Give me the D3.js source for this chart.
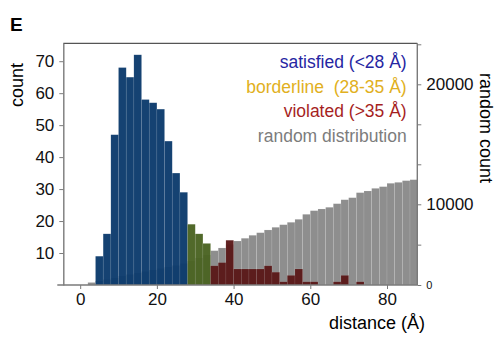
<!DOCTYPE html>
<html lang="en">
<head>
  <meta charset="UTF-8">
  <title>Crosslink distance histogram</title>
  <script src="https://d3js.org/d3.v7.min.js"></script>
  <style>
    body { margin: 0; background: #fff; font-family: "Liberation Sans", Arial, sans-serif; }
    .axis path, .axis line { stroke: #7a7a7a; }
    .axis text { font-family: "Liberation Sans", Arial, sans-serif; fill: #111; }
  </style>
</head>
<body>
<svg width="499" height="339"></svg>

<script>
  // bin start (Å), bins are 2 Å wide
  const binStarts = [2, 4, 6, 8, 10, 12, 14, 16, 18, 20, 22, 24, 26, 28, 30, 32, 34, 36, 38, 40, 42, 44,
                     46, 48, 50, 52, 54, 56, 58, 60, 62, 64, 66, 68, 70, 72, 74, 76, 78, 80, 82, 84, 86];
  // observed crosslink counts (left axis)
  const observedCounts = [0, 9, 16, 47, 68, 65, 72, 58, 57, 55, 45, 35, 29, 19, 16, 13, 6, 7, 14, 5, 5, 5,
                          5, 6, 4, 1, 3, 5, 1, 1, 0, 0, 1, 3, 0, 1, 0, 0, 0, 0, 0, 0, 0];
  // random distribution counts (right axis)
  const randomCounts = [310, 500, 680, 870, 1120, 1300, 1490, 1670, 1860, 2050, 2230, 2420, 2660, 2970, 3350,
                        3720, 4250, 4590, 5020, 5450, 5790, 6160, 6480, 6820, 7150, 7470, 7770, 8140, 8760,
                        9210, 9420, 9630, 10050, 10380, 10550, 10970, 11110, 11330, 11470, 11750, 11830,
                        11970, 12050];
  const leftTicks = [10, 20, 30, 40, 50, 60, 70];
  const bottomTicks = [0, 20, 40, 60, 80];
  const rightTicks = [0, 5000, 10000, 13333.3, 16666.7, 20000, 23333.3];
  const rightLabels = [0, 10000, 20000];
  const classes = [
    { name: "satisfied", label: "satisfied (<28 Å)", max: 28, bar: "#0b3a6c", text: "#2626a2" },
    { name: "borderline", label: "borderline  (28-35 Å)", max: 34, bar: "#4a6321", text: "#e1b021" },
    { name: "violated", label: "violated (>35 Å)", max: Infinity, bar: "#5a1818", text: "#a61f1f" }
  ];
  const randomLabel = "random distribution";
  const binWidth = 2;

  const svg = d3.select("svg"),
        margin = {top: 43.3, right: 81.7, bottom: 54, left: 63.3},
        width = +svg.attr("width") - margin.left - margin.right,
        height = +svg.attr("height") - margin.top - margin.bottom,
        g = svg.append("g").attr("transform", `translate(${margin.left},${margin.top})`);

  const x = d3.scaleLinear().domain([-4.4, 87.9]).range([0, width]);
  const y = d3.scaleLinear().domain([0, 75.6]).range([height, 0]);
  // right axis as it is labelled in the figure
  const yR = d3.scaleLinear().domain([0, 10000, 20000]).range([height, height - 80.7, height - 200.7]);

  const classOf = s => classes.find(c => s < c.max);

  // random distribution (behind)
  g.append("g")
    .selectAll("rect")
    .data(binStarts.map((s, i) => ({ s, v: randomCounts[i] })))
    .join("rect")
      .attr("x", d => x(d.s))
      .attr("y", d => yR(d.v))
      .attr("width", x(binWidth) - x(0))
      .attr("height", d => height - yR(d.v))
      .attr("fill", "#8e8e8e")
      .attr("stroke", "rgba(255,255,255,0.18)")
      .attr("stroke-width", 0.6);

  // observed counts
  g.append("g")
    .selectAll("rect")
    .data(binStarts.map((s, i) => ({ s, v: observedCounts[i] })).filter(d => d.v > 0))
    .join("rect")
      .attr("x", d => x(d.s))
      .attr("y", d => y(d.v))
      .attr("width", x(binWidth) - x(0))
      .attr("height", d => height - y(d.v))
      .attr("fill", d => classOf(d.s).bar)
      .attr("fill-opacity", 0.96)
      .attr("stroke", "rgba(255,255,255,0.12)")
      .attr("stroke-width", 0.6);

  // frame top
  g.append("line")
    .attr("x1", 0).attr("x2", width).attr("y1", 0).attr("y2", 0)
    .attr("stroke", "#555").attr("stroke-width", 1.2);

  // left axis
  g.append("g")
    .attr("class", "axis")
    .call(d3.axisLeft(y).tickValues(leftTicks).tickSize(4).tickSizeOuter(0))
    .call(a => a.selectAll("text").style("font-size", "17px").attr("x", -9))
    .call(a => a.select(".domain").attr("stroke-width", 1.4));

  // bottom axis
  g.append("g")
    .attr("class", "axis")
    .attr("transform", `translate(0,${height})`)
    .call(d3.axisBottom(x).tickValues(bottomTicks).tickSize(4).tickSizeOuter(0))
    .call(a => a.selectAll("text").style("font-size", "17px").attr("y", 8))
    .call(a => a.select(".domain").attr("d", `M-6,0H${width}`).attr("stroke-width", 1.4));

  // right axis
  g.append("g")
    .attr("class", "axis")
    .attr("transform", `translate(${width},0)`)
    .call(d3.axisRight(yR).tickValues(rightTicks).tickSize(4).tickSizeOuter(0)
      .tickFormat(d => rightLabels.includes(d) ? d : ""))
    .call(a => a.selectAll("text").style("font-size", d => d === 0 ? "11px" : "17px").attr("x", 9))
    .call(a => a.select(".domain").attr("d", `M0,0V${height}`).attr("stroke-width", 1.4));

  // legend
  const legend = g.append("g")
    .attr("text-anchor", "end")
    .style("font-size", "17.5px");
  legend.selectAll("text")
    .data([...classes.map(c => ({ label: c.label, color: c.text })), { label: randomLabel, color: "#7c7c7c" }])
    .join("text")
      .attr("x", width - 10.6)
      .attr("y", (d, i) => 25 + i * 24.6)
      .attr("fill", d => d.color)
      .style("white-space", "pre")
      .attr("xml:space", "preserve")
      .text(d => d.label);

  // axis titles
  svg.append("text")
    .attr("transform", "translate(23,85) rotate(-90)")
    .attr("text-anchor", "middle")
    .style("font-size", "18px")
    .text("count");

  svg.append("text")
    .attr("transform", "translate(480,128) rotate(90)")
    .attr("text-anchor", "middle")
    .style("font-size", "18px")
    .text("random count");

  svg.append("text")
    .attr("x", 377).attr("y", 329)
    .attr("text-anchor", "middle")
    .style("font-size", "18px")
    .text("distance (Å)");

  svg.append("text")
    .attr("x", 10).attr("y", 31)
    .style("font-size", "19px")
    .style("font-weight", "bold")
    .text("E");
</script>
</body>
</html>
